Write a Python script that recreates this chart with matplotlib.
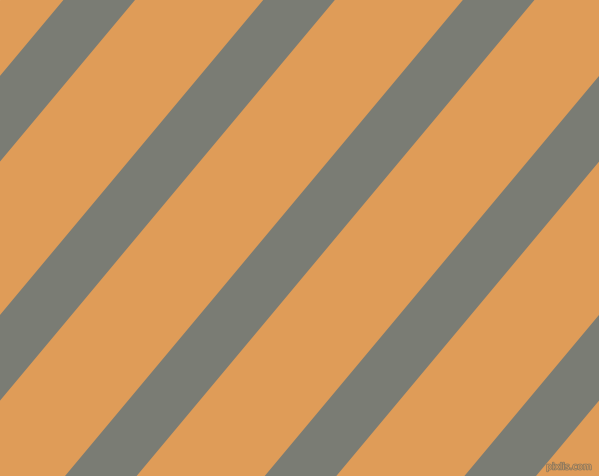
import matplotlib
matplotlib.use('Agg')
import matplotlib.pyplot as plt
import matplotlib.patheffects as pe

# stripe layout (pixels)
stripe_centers_top = [-100.5, 99.2, 299.0, 498.6, 698.3, 898.0]  # x of stripe centre on the top edge
stripe_width = 71.6      # horizontal width of a gray band
slope = 0.8357           # horizontal shift per pixel of depth
bg_color = '#DF9C58'
stripe_color = '#7A7C74'

W, H = 599, 476

fig = plt.figure(figsize=(W / 100, H / 100), dpi=100)
ax = fig.add_axes([0, 0, 1, 1])
ax.set_xlim(0, W)
ax.set_ylim(H, 0)
ax.axis('off')
ax.add_patch(plt.Rectangle((0, 0), W, H, color=bg_color, zorder=0))

for xc in stripe_centers_top:
    x_top = [xc - stripe_width / 2, xc + stripe_width / 2]
    xs = [x_top[0], x_top[1], x_top[1] - slope * H, x_top[0] - slope * H]
    ys = [0, 0, H, H]
    ax.fill(xs, ys, color=stripe_color, lw=0, zorder=1)

ax.text(592, 467, 'pixlis.com', ha='right', va='center', fontsize=6.5,
        color=bg_color, zorder=2,
        path_effects=[pe.withStroke(linewidth=1.2, foreground='#8f7a5e')])

fig.savefig('out.png', dpi=100)
